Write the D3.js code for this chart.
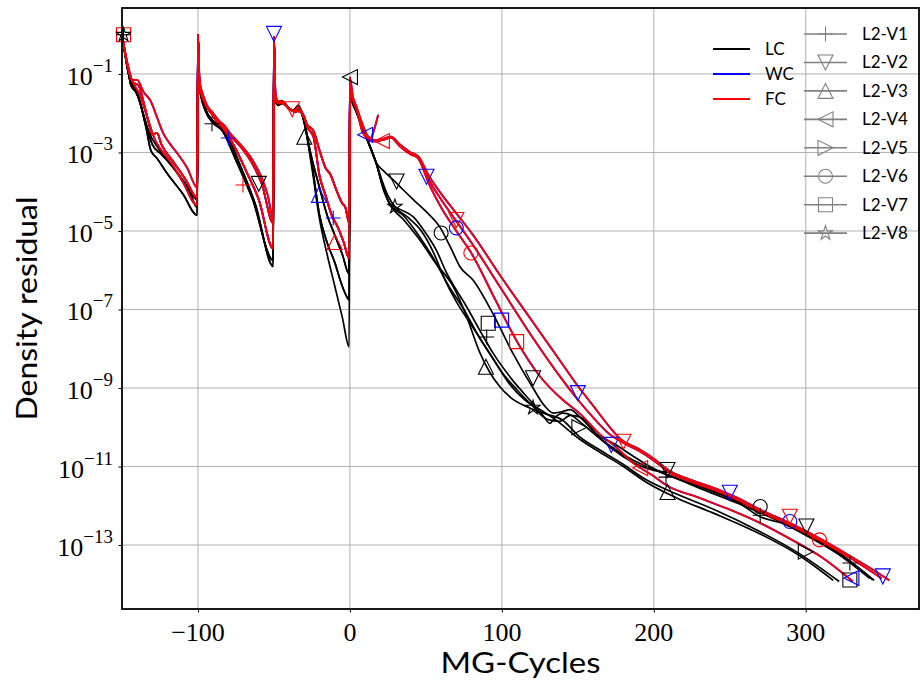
<!DOCTYPE html>
<html lang="en">
<head>
<meta charset="UTF-8" />
<title>Density residual vs MG-Cycles</title>
<script src="https://d3js.org/d3.v7.min.js"></script>
<style>
  html, body { margin: 0; padding: 0; background: #fff; }
  svg { display: block; }
  .tick-label { font-family: "Liberation Serif", "DejaVu Serif", serif; font-size: 26px; fill: #000; }
  .axis-title { font-family: Lato, "DejaVu Sans", sans-serif; font-size: 28px; fill: #000; }
  .legend text { font-family: Lato, "DejaVu Sans", sans-serif; font-size: 17px; fill: #000; }
</style>
</head>
<body>
<svg id="chart" width="920" height="684"></svg>
<script>
// ---- data (x = MG cycle, e = log10 of density residual) ----
const runs = ["LC", "WC", "FC"];
const variants = ["L2-V1", "L2-V2", "L2-V3", "L2-V4", "L2-V5", "L2-V6", "L2-V7", "L2-V8"];
const xTicks = [-100, 0, 100, 200, 300];
const yTickExps = [-1, -3, -5, -7, -9, -11, -13];

// coarse stage 1 (-150 .. -100)
const c1BlackA = [[-150,0],[-146,-0.9],[-144,-1.3],[-141,-1.45],[-138,-1.75],[-134,-2.4],[-131,-2.95],[-127,-3.15],[-120,-3.55],[-110,-4.05],[-100.5,-4.6]];
const c1BlackB = [[-150,0],[-146,-0.95],[-144,-1.3],[-140,-1.5],[-136,-2.0],[-132,-2.5],[-126,-2.9],[-118,-3.3],[-110,-3.7],[-100.5,-4.2]];
const c1BlackC = [[-150,0],[-145,-1.1],[-142,-1.35],[-139,-1.6],[-135,-2.2],[-130,-2.8],[-124,-3.05],[-115,-3.45],[-106,-3.95],[-100.5,-4.4]];
const c1RedA = [[-150,0],[-146,-0.8],[-143,-1.15],[-140,-1.15],[-136,-1.45],[-131,-1.7],[-127,-2.1],[-123,-2.5],[-119,-2.75],[-114,-3.0],[-107,-3.4],[-100.5,-3.9]];
const c1RedB = [[-150,0],[-146,-0.85],[-143,-1.2],[-139,-1.3],[-135,-1.85],[-132,-2.3],[-130,-2.55],[-127,-2.5],[-124,-2.8],[-117,-3.2],[-108,-3.7],[-100.5,-4.15]];
const c1RedC = [[-150,0],[-145,-1.0],[-143,-1.2],[-138,-1.55],[-133,-2.15],[-128,-2.7],[-124,-2.95],[-118,-3.25],[-110,-3.75],[-100.5,-4.35]];

// coarse stage 2 (-100 .. -50)
const c2Upper = [[-100,0],[-99,-1.2],[-97,-1.55],[-94,-1.85],[-90,-2.05],[-86,-2.25],[-83,-2.35],[-78,-2.6],[-72,-2.85],[-64,-3.3],[-58,-3.8],[-50.5,-4.8]];
const c2Upper2 = [[-100,0],[-99,-1.15],[-97,-1.5],[-94,-1.8],[-90,-2.0],[-86,-2.2],[-83,-2.3],[-78,-2.55],[-72,-2.8],[-64,-3.2],[-58,-3.65],[-54,-4.1],[-50.5,-4.7]];
const c2Mid = [[-100,0],[-99,-1.25],[-96,-1.7],[-92,-1.95],[-88,-2.2],[-83,-2.4],[-76,-2.85],[-68,-3.5],[-60,-4.2],[-50.5,-5.45]];
const c2Lower = [[-100,0],[-99,-1.3],[-95,-1.9],[-90,-2.2],[-85,-2.35],[-82,-2.5],[-72,-3.35],[-62,-4.35],[-50.5,-5.9]];
const c2Lower2 = [[-100,0],[-99,-1.35],[-95,-1.95],[-90,-2.25],[-84,-2.45],[-75,-3.2],[-64,-4.2],[-50.5,-5.75]];

// coarse stage 3 (-50 .. 0)
const c3RedUpper = [[-50,-0.05],[-49,-1.55],[-47,-1.7],[-45,-1.7],[-41,-1.85],[-37,-1.95],[-34,-1.85],[-31,-2.05],[-28,-2.3],[-24,-2.45],[-20,-2.95],[-16,-3.4],[-13,-3.55],[-9,-3.95],[-5,-4.3],[-3,-4.4],[-0.5,-4.8]];
const c3RedMid = [[-50,-0.05],[-49,-1.6],[-47,-1.75],[-44,-1.75],[-40,-1.9],[-36,-1.95],[-33,-1.95],[-30,-2.1],[-28,-2.35],[-24,-2.6],[-20,-3.6],[-16,-4.1],[-12,-4.6],[-8,-4.9],[-4,-5.3],[-0.5,-5.7]];
const c3BlackMid = [[-50,-0.1],[-49,-1.65],[-47,-1.75],[-45,-1.68],[-41,-1.85],[-37,-1.92],[-34,-1.8],[-31,-2.05],[-26,-3.0],[-20,-3.9],[-15,-4.6],[-10,-5.1],[-5,-5.6],[-0.5,-6.1]];
const c3BlackLow = [[-50,-0.1],[-49,-1.7],[-47,-1.78],[-44,-1.72],[-40,-1.88],[-36,-1.95],[-34,-1.85],[-31,-2.1],[-25,-3.3],[-20,-4.6],[-15,-5.3],[-10,-5.8],[-6,-6.3],[-3,-6.6],[-0.5,-6.75]];
const c3BlackLowest = [[-50,-0.1],[-49,-1.72],[-47,-1.8],[-44,-1.75],[-40,-1.9],[-36,-1.97],[-33,-1.9],[-31,-2.1],[-25,-3.4],[-20,-4.7],[-15,-5.6],[-10,-6.4],[-5,-7.2],[-0.5,-7.95]];

// fine level (0 .. end)
const fRedUpper = [[0,-1.1],[1,-1.45],[4,-1.8],[8,-2.25],[12,-2.6],[17,-2.7],[22,-2.65],[27,-2.6],[33,-2.8],[40,-3.0],[45,-3.1],[52,-3.6],[60,-4.05],[70,-4.55],[80,-5.05],[100,-6.2],[120,-7.3],[140,-8.4],[150,-8.95],[160,-9.45],[170,-9.95],[178,-10.3],[190,-10.55],[200,-10.8],[210,-11.1],[225,-11.35],[240,-11.55],[255,-11.8],[270,-12.1],[290,-12.45],[310,-12.85],[330,-13.3],[345,-13.65],[355,-13.9]];
const fRedUpper2 = [[0,-1.1],[1,-1.5],[4,-1.85],[8,-2.3],[12,-2.62],[17,-2.72],[22,-2.67],[27,-2.62],[33,-2.85],[40,-3.05],[45,-3.15],[52,-3.7],[60,-4.2],[70,-4.75],[80,-5.3],[100,-6.5],[120,-7.7],[140,-8.8],[150,-9.3],[160,-9.75],[170,-10.15],[180,-10.4],[190,-10.6],[200,-10.85],[210,-11.15],[225,-11.4],[240,-11.6],[255,-11.85],[270,-12.15],[290,-12.5],[310,-12.9],[330,-13.35],[350,-13.85]];
const fRedLower = [[0,-1.1],[1,-1.5],[4,-1.85],[8,-2.3],[12,-2.6],[17,-2.7],[22,-2.68],[27,-2.62],[33,-2.82],[40,-3.02],[45,-3.15],[52,-3.8],[60,-4.4],[70,-5.0],[80,-5.57],[95,-6.7],[110,-7.82],[125,-8.7],[140,-9.3],[151,-9.64],[165,-10.2],[175,-10.5],[186,-10.9],[200,-11.25],[208,-11.47],[230,-11.8],[250,-12.1],[270,-12.44],[290,-12.85],[310,-13.3],[331,-13.93]];
const fRedHook = [[0,-1.1],[2,-1.6],[5,-2.0],[8,-2.45],[11,-2.62],[13,-2.68],[15.5,-2.47],[18.6,-2.04]];
const fBlackA = [[0,-1.08],[1,-1.6],[4,-1.9],[8,-2.3],[11,-2.6],[17.5,-3.27],[23,-3.5],[28.5,-3.7],[35,-3.95],[41.7,-4.2],[50,-4.5],[59,-4.89],[66,-5.4],[72.4,-5.91],[81,-6.25],[94,-7.1],[107,-8.1],[120,-8.97],[128,-9.45],[134,-9.64],[140,-9.6],[145,-9.55],[151,-9.73],[164.5,-10.24],[173,-10.4],[185,-10.7],[195,-10.95],[204,-11.13],[215,-11.3],[239,-11.64],[256,-11.93],[270,-12.28],[285,-12.45],[300,-12.7],[315,-13.05],[330,-13.45],[344,-13.89]];
const fBlackB = [[0,-1.1],[1,-1.62],[4,-1.92],[8,-2.32],[11,-2.62],[17.5,-3.3],[22,-3.9],[26,-4.29],[33,-4.45],[41.7,-4.64],[50,-5.06],[57,-5.5],[63.6,-6.07],[70,-6.5],[76.8,-6.93],[85,-7.5],[94,-8.1],[107,-8.8],[120,-9.38],[127,-9.7],[131.6,-9.9],[135,-9.75],[140,-9.64],[146,-9.7],[151,-9.85],[165,-10.3],[180,-10.7],[195,-11.0],[208,-11.2],[230,-11.55],[256,-11.95],[280,-12.35],[300,-12.75],[320,-13.2],[342,-13.85]];
const fBlackC = [[0,-1.12],[1,-1.63],[4,-1.95],[8,-2.35],[11,-2.65],[17.5,-3.3],[22,-3.9],[26,-4.3],[35,-4.7],[46,-5.23],[56,-5.8],[68,-6.42],[76,-7.1],[85.5,-8.1],[92,-8.6],[98.7,-8.97],[106,-9.25],[116,-9.47],[128,-9.65],[140,-9.82],[151,-10.24],[164.5,-10.58],[180,-10.95],[195,-11.34],[215,-11.7],[240,-12.1],[270,-12.66],[295,-13.2],[322,-13.93]];
const fBlackD = [[0,-1.1],[1,-1.6],[4,-1.93],[8,-2.33],[11,-2.63],[17.5,-3.28],[21,-3.7],[25,-4.1],[30,-4.4],[38,-4.65],[47,-5.0],[55,-5.55],[62,-6.2],[70,-6.8],[80,-7.4],[90,-8.0],[100,-8.6],[110,-9.05],[120,-9.45],[130,-9.8],[138,-9.85],[145,-9.7],[152,-9.75],[165,-10.3],[180,-10.75],[200,-11.1],[210,-11.15],[230,-11.45],[256,-11.9],[280,-12.3],[300,-12.7],[320,-13.15],[345,-13.9]];
const fBlackE = [[0,-1.12],[1,-1.65],[4,-1.95],[8,-2.35],[11,-2.65],[17.5,-3.3],[22,-3.95],[26,-4.3],[35,-4.6],[45,-5.1],[55,-5.7],[65,-6.4],[75,-7.0],[85,-7.7],[95,-8.3],[105,-8.9],[115,-9.3],[125,-9.55],[135,-9.8],[151,-10.3],[165,-10.65],[180,-11.0],[195,-11.4],[215,-11.8],[240,-12.2],[270,-12.72],[295,-13.25],[318,-13.9]];

// each history = coarse1 + coarse2 + coarse3 + fine
const lcHistories = [
  [c1BlackB, c2Upper, c3BlackMid, fBlackA],
  [c1BlackA, c2Lower, c3BlackLowest, fBlackB],
  [c1BlackC, c2Lower2, c3BlackLow, fBlackC],
  [c1BlackA, c2Lower2, c3BlackLow, fBlackD],
  [c1BlackC, c2Lower, c3BlackMid, fBlackE]
];
const fcHistories = [
  [c1RedA, c2Upper, c3RedUpper, fRedUpper],
  [c1RedB, c2Upper2, c3RedUpper, fRedUpper2],
  [c1RedC, c2Mid, c3RedMid, fRedLower],
  [c1RedB, c2Mid, c3RedMid, fRedHook]
];
const wcHistories = fcHistories; // WC runs lie under the FC ones

// markers: [variant index, run, x, e]
const markerPoints = [
  [6,"FC",-149,0.0],[7,"LC",-149,0.0],[0,"LC",-149,0.0],
  [0,"LC",-90.8,-2.27],[0,"WC",-80,-2.63],[0,"FC",-70.4,-3.83],
  [1,"LC",-60,-3.8],[1,"WC",-50,0.02],[1,"FC",-38,-1.9],
  [2,"LC",-30,-2.6],[2,"WC",-20.4,-4.08],[0,"WC",-11,-4.67],[2,"FC",-10,-5.28],
  [3,"LC",0,-1.08],[3,"WC",10,-2.55],[3,"FC",21,-2.71],
  [1,"LC",30.7,-3.74],[7,"LC",29.6,-4.38],[1,"WC",50.4,-3.62],
  [1,"FC",70,-4.72],[5,"WC",70,-4.92],[5,"LC",60,-5.05],[5,"FC",79.6,-5.56],
  [6,"WC",99.8,-7.27],[6,"LC",91,-7.35],[0,"LC",90,-7.7],[6,"FC",109.7,-7.82],
  [2,"LC",89.5,-8.46],[1,"LC",120.5,-8.75],[1,"WC",150,-9.13],[7,"LC",120.5,-9.5],
  [4,"LC",151,-10.0],[1,"WC",172,-10.45],[1,"FC",180,-10.37],[3,"FC",191,-11.04],
  [1,"LC",209,-11.09],[0,"LC",208,-11.27],[2,"LC",209,-11.65],[1,"WC",250,-11.67],
  [5,"LC",270,-12.02],[0,"LC",270,-12.24],[5,"WC",289.5,-12.4],[1,"FC",289.5,-12.28],
  [1,"LC",300.4,-12.53],[5,"FC",309,-12.87],[4,"LC",300,-13.17],
  [0,"LC",329,-13.46],[6,"LC",329,-13.89],[3,"WC",330,-13.84],[1,"WC",350.7,-13.8]
];

// ---- drawing ----
const runColor = { LC: "#000000", WC: "#0000ff", FC: "#ff0000" };
const shapes = ["plus", "triDown", "triUp", "triLeft", "triRight", "circle", "square", "star"];
const plot = { left: 122, right: 919, top: 8, bottom: 609 };

const svg = d3.select("#chart");

const x = d3.scaleLinear().domain([-150, 374.5]).range([plot.left, plot.right]);
const y = d3.scaleLog().domain([Math.pow(10, -14.63), Math.pow(10, 0.68)]).range([plot.bottom, plot.top]);
const yv = (e) => y(Math.pow(10, e));

function markerPath(shape, m) {
  const h = m / 2;
  switch (shape) {
    case "plus": return `M${-h},0H${h}M0,${-h}V${h}`;
    case "triDown": return `M0,${h}L${-h},${-h}L${h},${-h}Z`;
    case "triUp": return `M0,${-h}L${-h},${h}L${h},${h}Z`;
    case "triLeft": return `M${-h},0L${h},${-h}L${h},${h}Z`;
    case "triRight": return `M${h},0L${-h},${-h}L${-h},${h}Z`;
    case "circle": return `M${h - 0.5},0A${h - 0.5},${h - 0.5} 0 1 1 ${-(h - 0.5)},0A${h - 0.5},${h - 0.5} 0 1 1 ${h - 0.5},0Z`;
    case "square": { const s = h - 0.5; return `M${-s},${-s}H${s}V${s}H${-s}Z`; }
    case "star": {
      let p = "";
      for (let i = 0; i < 10; i++) {
        const r = i % 2 === 0 ? h : h * 0.382;
        const a = -Math.PI / 2 + i * Math.PI / 5;
        p += (i === 0 ? "M" : "L") + (r * Math.cos(a)).toFixed(2) + "," + (r * Math.sin(a)).toFixed(2);
      }
      return p + "Z";
    }
  }
}

svg.append("defs").append("clipPath").attr("id", "plot-clip")
  .append("rect")
  .attr("x", plot.left).attr("y", plot.top)
  .attr("width", plot.right - plot.left).attr("height", plot.bottom - plot.top);

// grid
const grid = svg.append("g").attr("stroke", "#b0b0b0").attr("stroke-width", 1);
grid.selectAll(".gx").data(xTicks).enter().append("line")
  .attr("x1", (d) => x(d)).attr("x2", (d) => x(d))
  .attr("y1", plot.top).attr("y2", plot.bottom);
grid.selectAll(".gy").data(yTickExps).enter().append("line")
  .attr("x1", plot.left).attr("x2", plot.right)
  .attr("y1", (d) => yv(d)).attr("y2", (d) => yv(d));

// lines
const line = d3.line()
  .x((d) => x(d[0]))
  .y((d) => yv(d[1]))
  .curve(d3.curveMonotoneX);

const lines = svg.append("g").attr("clip-path", "url(#plot-clip)").attr("fill", "none")
  .attr("stroke-linejoin", "round");

function drawHistories(histories, run, width) {
  lines.selectAll(null).data(histories).enter().append("path")
    .attr("d", (segs) => line([].concat(...segs)))
    .attr("stroke", runColor[run])
    .attr("stroke-width", width);
}
drawHistories(wcHistories, "WC", 1.9);
drawHistories(lcHistories, "LC", 1.7);
drawHistories(fcHistories, "FC", 1.8);

// markers
svg.append("g").attr("fill", "none").attr("stroke-width", 1.1)
  .selectAll("path").data(markerPoints).enter().append("path")
  .attr("transform", (d) => `translate(${x(d[2])},${yv(d[3])})`)
  .attr("d", (d) => markerPath(shapes[d[0]], 15))
  .attr("stroke", (d) => runColor[d[1]]);

// axes frame
svg.append("rect")
  .attr("x", plot.left).attr("y", plot.top)
  .attr("width", plot.right - plot.left).attr("height", plot.bottom - plot.top)
  .attr("fill", "none").attr("stroke", "#000").attr("stroke-width", 1.8);

// ticks
const xAxis = d3.axisBottom(x).tickValues(xTicks).tickSize(3.5).tickFormat("");
svg.append("g").attr("transform", `translate(0,${plot.bottom})`).call(xAxis)
  .call((g) => g.select(".domain").remove());
const yAxis = d3.axisLeft(y).tickValues(yTickExps.map((e) => Math.pow(10, e))).tickSize(3.5).tickFormat("");
svg.append("g").attr("transform", `translate(${plot.left},0)`).call(yAxis)
  .call((g) => g.select(".domain").remove());

// tick labels
svg.append("g").selectAll("text").data(xTicks).enter().append("text")
  .attr("class", "tick-label")
  .attr("x", (d) => x(d)).attr("y", 641)
  .attr("text-anchor", "middle")
  .text((d) => (d < 0 ? "\u2212" + Math.abs(d) : d));

const yLabels = svg.append("g").selectAll("text").data(yTickExps).enter().append("text")
  .attr("class", "tick-label")
  .attr("x", 113).attr("y", (d) => yv(d) + 11)
  .attr("text-anchor", "end");
yLabels.append("tspan").text("10");
yLabels.append("tspan").attr("dy", -13).attr("font-size", 19).text((d) => "\u2212" + Math.abs(d));

// axis titles
svg.append("text").attr("class", "axis-title")
  .attr("x", (plot.left + plot.right) / 2).attr("y", 673)
  .attr("text-anchor", "middle")
  .attr("font-size", 25)
  .attr("textLength", 160).attr("lengthAdjust", "spacingAndGlyphs")
  .text("MG-Cycles");
svg.append("text").attr("class", "axis-title")
  .attr("transform", `translate(37,${(plot.top + plot.bottom) / 2}) rotate(-90)`)
  .attr("text-anchor", "middle")
  .attr("textLength", 224).attr("lengthAdjust", "spacingAndGlyphs")
  .text("Density residual");

// legend: runs
const legRuns = svg.append("g").attr("class", "legend");
runs.forEach((r, i) => {
  const ly = 49 + i * 25;
  legRuns.append("line").attr("x1", 713).attr("x2", 750).attr("y1", ly).attr("y2", ly)
    .attr("stroke", runColor[r]).attr("stroke-width", 1.8);
  legRuns.append("text").attr("x", 765).attr("y", ly + 6).text(r);
});

// legend: variants
const legVar = svg.append("g").attr("class", "legend");
variants.forEach((v, i) => {
  const ly = 34 + i * 28.45;
  legVar.append("line").attr("x1", 804).attr("x2", 847).attr("y1", ly).attr("y2", ly)
    .attr("stroke", "#808080").attr("stroke-width", 1.6);
  legVar.append("path").attr("transform", `translate(825.5,${ly})`)
    .attr("d", markerPath(shapes[i], 15))
    .attr("fill", "none").attr("stroke", "#808080").attr("stroke-width", 1.1);
  legVar.append("text").attr("x", 862).attr("y", ly + 6).text(v);
});
</script>
</body>
</html>
